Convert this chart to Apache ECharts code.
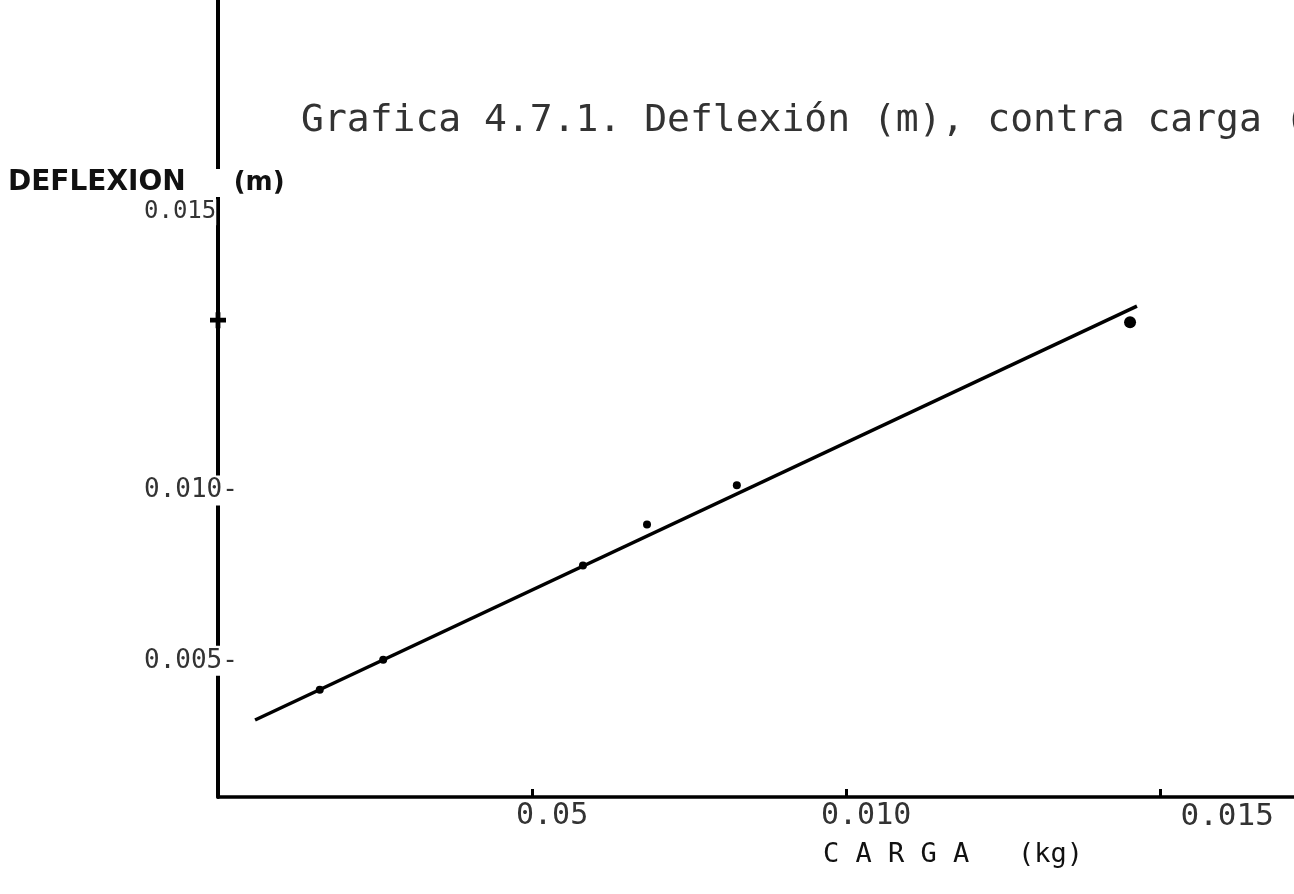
<!DOCTYPE html>
<html>
<head>
<meta charset="utf-8">
<title>Grafica 4.7.1</title>
<script src="https://cdn.jsdelivr.net/npm/echarts@6/dist/echarts.min.js"></script>
<style>
  html, body { margin: 0; padding: 0; background: #fff; }
  #chart { width: 1294px; height: 894px; }
</style>
</head>
<body>
<div id="chart"></div>
<script>
// carga (kg) / deflexion (m)
const cargaPuntos = [0.00162, 0.00263, 0.00581, 0.00683, 0.00826, 0.01452]
const deflexionPuntos = [0.00415, 0.00503, 0.00780, 0.00900, 0.01015, 0.01494]

// recta de ajuste (extremos)
const cargaRecta = [0.00059, 0.01463]
const deflexionRecta = [0.00326, 0.01541]

// marcas de los ejes y etiquetas tal como aparecen impresas
const ticksX = [0.005, 0.010, 0.015]
const ticksY = [0.005, 0.010, 0.015]
const etiquetasX = ['0.05', '0.010', '0.015']
const etiquetasY = ['0.005-', '0.010-', '0.015']

const fuente = '"DejaVu Sans Mono", "Liberation Mono", monospace'
const tinta = '#000'
const gris = '#333'

const idx = (arr, v) => arr.findIndex(t => Math.abs(t - v) < 1e-9)

const chart = echarts.init(document.getElementById('chart'))

chart.setOption({
  backgroundColor: '#fff',
  animation: false,
  title: [{
    text: 'Grafica 4.7.1. Deflexión (m), contra carga (kg)',
    left: 296,
    top: 97,
    textStyle: { fontFamily: fuente, fontSize: 38, fontWeight: 'normal', color: gris }
  }, {
    text: '{a|DEFLEXION}{b|(m)}',
    left: 8,
    top: 169,
    padding: 0,
    backgroundColor: '#fff',
    textStyle: {
      rich: {
        a: { fontFamily: '"DejaVu Sans", sans-serif', fontSize: 28, fontWeight: 'bold', color: '#111' },
        b: { fontFamily: '"DejaVu Sans", sans-serif', fontSize: 26, fontWeight: 'bold', color: '#111', padding: [0, 0, 0, 48] }
      }
    }
  }, {
    text: 'C A R G A   (kg)',
    left: 818,
    top: 836,
    textStyle: { fontFamily: fuente, fontSize: 27, fontWeight: 'normal', color: '#111' }
  }],
  grid: {
    left: 218,
    right: 0,
    top: 0,
    bottom: 97
  },
  xAxis: {
    type: 'value',
    min: 0,
    max: 0.01713,
    splitLine: { show: false },
    axisLine: { lineStyle: { color: tinta, width: 3.5 } },
    axisTick: {
      show: true, inside: true, length: 8,
      customValues: ticksX,
      lineStyle: { color: tinta, width: 3 }
    },
    axisLabel: {
      margin: 4,
      customValues: ticksX,
      formatter: v => {
        const i = idx(ticksX, v)
        if (i < 0) return ''
        return i === ticksX.length - 1 ? '{der|' + etiquetasX[i] + '}' : '{n|' + etiquetasX[i] + '}'
      },
      rich: {
        n: { fontFamily: fuente, fontSize: 30, color: gris, padding: [0, 0, 0, 40] },
        der: { fontFamily: fuente, fontSize: 31, color: gris, padding: [0, 0, 0, 134] }
      }
    }
  },
  yAxis: {
    type: 'value',
    min: 0.001,
    max: 0.0244,
    splitLine: { show: false },
    axisLine: { lineStyle: { color: tinta, width: 4 } },
    axisTick: { show: false },
    axisLabel: {
      align: 'left',
      margin: 74,
      customValues: ticksY,
      formatter: v => {
        const i = idx(ticksY, v)
        if (i < 0) return ''
        if (i === ticksY.length - 1) return '{alto|' + etiquetasY[i] + '}\n{sp| }'
        return '{n|' + etiquetasY[i] + '}'
      },
      rich: {
        n: { fontFamily: fuente, fontSize: 26, color: gris, backgroundColor: '#fff', padding: [2, 0, 2, 0] },
        alto: { fontFamily: fuente, fontSize: 24, color: gris, backgroundColor: '#fff', padding: [1, 0, 1, 0] },
        sp: { fontSize: 10, height: 216, lineHeight: 216 }
      }
    }
  },
  series: [{
    name: 'ajuste',
    type: 'line',
    data: cargaRecta.map((x, i) => [x, deflexionRecta[i]]),
    showSymbol: false,
    lineStyle: { color: tinta, width: 3.5 },
    z: 2
  }, {
    name: 'datos',
    type: 'scatter',
    data: cargaPuntos.map((x, i) => [x, deflexionPuntos[i]]),
    symbolSize: (val, p) => p.dataIndex === cargaPuntos.length - 1 ? 12 : 8,
    itemStyle: { color: tinta, opacity: 1 },
    z: 3
  }, {
    // marca "+" en 0.015 del eje vertical
    name: 'marca',
    type: 'scatter',
    data: [[0, ticksY[2]]],
    symbol: 'path://M3.5,0 L6.5,0 L6.5,3.5 L10,3.5 L10,6.5 L6.5,6.5 L6.5,10 L3.5,10 L3.5,6.5 L0,6.5 L0,3.5 L3.5,3.5 Z',
    symbolSize: 16,
    itemStyle: { color: tinta, opacity: 1 },
    clip: false,
    z: 4
  }]
})
</script>
</body>
</html>
